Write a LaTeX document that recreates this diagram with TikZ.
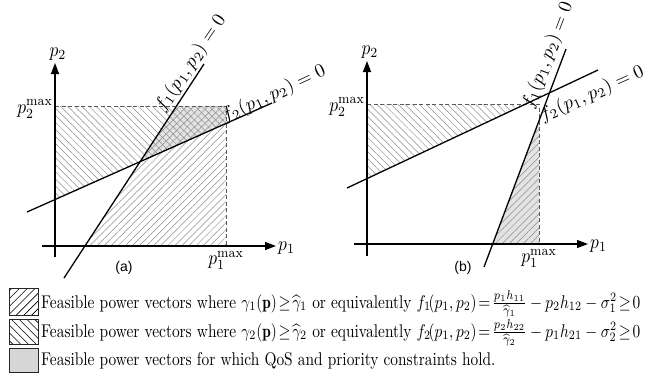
\documentclass[tikz,border=0pt]{standalone}
\usepackage{fontspec}
\usepackage{amsmath}
\usepackage{graphicx}
\newfontfamily\labfont{Liberation Sans}
\usetikzlibrary{arrows.meta,patterns.meta}
\newcommand\hlab[1]{\scalebox{1.75}[2.0]{$#1$}}
\newcommand\rlab[1]{\scalebox{1.9}{$#1$}}
\newcommand\legt[1]{\scalebox{1.54}[1.84]{#1}}
\begin{document}
\begin{tikzpicture}[x=1pt,y=-1pt,
  axis/.style={line width=1.3pt,-{Triangle[length=11pt,width=8pt]}},
  fline/.style={line width=1.3pt},
  boxedge/.style={dash pattern=on 4pt off 2.5pt, line width=1pt, draw=black!65},
  hatchNE/.style={pattern={Lines[angle=45,distance=5pt,line width=0.5pt]}, pattern color=black!45},
  hatchNW/.style={pattern={Lines[angle=-45,distance=5pt,line width=0.5pt]}, pattern color=black!45},
  feas/.style={fill=black!11},
  lbl/.style={inner sep=0pt, font=\fontsize{10}{12}\selectfont},
  rlbl/.style={inner sep=0pt, font=\fontsize{10}{12}\selectfont},
  sub/.style={inner sep=0pt, font=\labfont\fontsize{14}{16}\selectfont},
  legbox/.style={draw=black!85, line width=0.9pt},
  legNE/.style={pattern={Lines[angle=45,distance=5.5pt,line width=0.6pt]}, pattern color=black},
  legNW/.style={pattern={Lines[angle=-45,distance=5.5pt,line width=0.6pt]}, pattern color=black},
  legtxt/.style={inner sep=0pt, anchor=base west, font=\fontsize{10}{12}\selectfont}
]
\useasboundingbox (0,0) rectangle (660,378);

% ---------------- panel (a) ----------------
\coordinate (aXs) at (42,246);  \coordinate (aXe) at (276,246);
\coordinate (aYs) at (55,257);  \coordinate (aYe) at (55,63);
\coordinate (aTL) at (55,106);  \coordinate (aTR) at (226,106);
\coordinate (aBR) at (226,246);
\coordinate (aF1s) at (64,278); \coordinate (aF1e) at (204,64);
\coordinate (aF2s) at (27,212); \coordinate (aF2e) at (272,103);
\coordinate (aI)   at (intersection of aF1s--aF1e and aF2s--aF2e);
\coordinate (aF1x) at (intersection of aF1s--aF1e and aXs--aXe);
\coordinate (aF1t) at (intersection of aF1s--aF1e and aTL--aTR);
\coordinate (aF2y) at (intersection of aF2s--aF2e and aYs--aYe);
\coordinate (aF2r) at (intersection of aF2s--aF2e and aTR--aBR);

\fill[feas] (aI) -- (aF1t) -- (aTR) -- (aF2r) -- cycle;
\path[hatchNE] (aF1x) -- (aBR) -- (aTR) -- (aF1t) -- cycle;
\path[hatchNW] (aF2y) -- (aTL) -- (aTR) -- (aF2r) -- cycle;
\draw[boxedge] (aTL) -- (aTR) -- (aBR);
\draw[fline] (aF1s) -- (aF1e);
\draw[fline] (aF2s) -- (aF2e);
\draw[axis] (aXs) -- (aXe);
\draw[axis] (aYs) -- (aYe);

\node[lbl, anchor=south] (ap2) at (58,61) {\hlab{p_2}};
\node[lbl, anchor=east] (ap2m) at (53,109) {\hlab{p_2^{\max}}};
\node[lbl, anchor=north] (ap1m) at (226,251) {\hlab{p_1^{\max}}};
\node[lbl, anchor=west] (ap1) at (278,248) {\hlab{p_1}};
\node[rlbl, rotate=56] (af1l) at (191,63) {\rlab{f_1(p_1,p_2)=0}};
\node[rlbl, rotate=25] (af2l) at (274,94) {\rlab{f_2(p_1,p_2)=0}};
\node[sub] (acap) at (124,268) {(a)};

% ---------------- panel (b) ----------------
\coordinate (bXs) at (354,244); \coordinate (bXe) at (588,244);
\coordinate (bYs) at (367,256); \coordinate (bYe) at (367,61);
\coordinate (bTL) at (367,104); \coordinate (bTR) at (539,104);
\coordinate (bBR) at (539,244);
\coordinate (bF1s) at (484,267); \coordinate (bF1e) at (566,49);
\coordinate (bF2s) at (347,188); \coordinate (bF2e) at (598,70);
\coordinate (bF1x) at (intersection of bF1s--bF1e and bXs--bXe);
\coordinate (bF1r) at (intersection of bF1s--bF1e and bTR--bBR);
\coordinate (bF2y) at (intersection of bF2s--bF2e and bYs--bYe);
\coordinate (bF2t) at (intersection of bF2s--bF2e and bTL--bTR);

\fill[feas] (bF1x) -- (bBR) -- (bF1r) -- cycle;
\path[hatchNE] (bF1x) -- (bBR) -- (bF1r) -- cycle;
\path[hatchNW] (bF2y) -- (bTL) -- (bF2t) -- cycle;
\draw[boxedge] (bTL) -- (bTR) -- (bBR);
\draw[fline] (bF1s) -- (bF1e);
\draw[fline] (bF2s) -- (bF2e);
\draw[axis] (bXs) -- (bXe);
\draw[axis] (bYs) -- (bYe);

\node[lbl, anchor=south] (bp2) at (370,59) {\hlab{p_2}};
\node[lbl, anchor=east] (bp2m) at (365,107) {\hlab{p_2^{\max}}};
\node[lbl, anchor=north] (bp1m) at (539,249) {\hlab{p_1^{\max}}};
\node[lbl, anchor=west] (bp1) at (590,246) {\hlab{p_1}};
\node[rlbl, rotate=69] (bf1l) at (548,55) {\rlab{f_1(p_1,p_2)=0}};
\node[rlbl, rotate=24] (bf2l) at (592,94) {\rlab{f_2(p_1,p_2)=0}};
\node[sub] (bcap) at (463,268) {(b)};

% ---------------- legend ----------------
\draw[legbox, legNE] (9,288) rectangle (38,315);
\draw[legbox, legNW] (9,319) rectangle (38,344);
\draw[legbox, fill=black!16] (9,348) rectangle (38,372);
\node[legtxt] (l1) at (41,308) {\legt{Feasible power vectors where $\gamma_1(\mathbf{p})\!\geq\!\widehat{\gamma}_1$ or equivalently $f_1\!(p_1,p_2)\!=\!\frac{p_1h_{11}}{\widehat{\gamma}_1}-p_2h_{12}-\sigma_1^2\!\geq\!0$}};
\node[legtxt] (l2) at (41,337) {\legt{Feasible power vectors where $\gamma_2(\mathbf{p})\!\geq\!\widehat{\gamma}_2$ or equivalently $f_2\!(p_1,p_2)\!=\!\frac{p_2h_{22}}{\widehat{\gamma}_2}-p_1h_{21}-\sigma_2^2\!\geq\!0$}};
\node[legtxt] (l3) at (41,365) {\legt{Feasible power vectors for which QoS and priority constraints hold.}};
\end{tikzpicture}
\end{document}
